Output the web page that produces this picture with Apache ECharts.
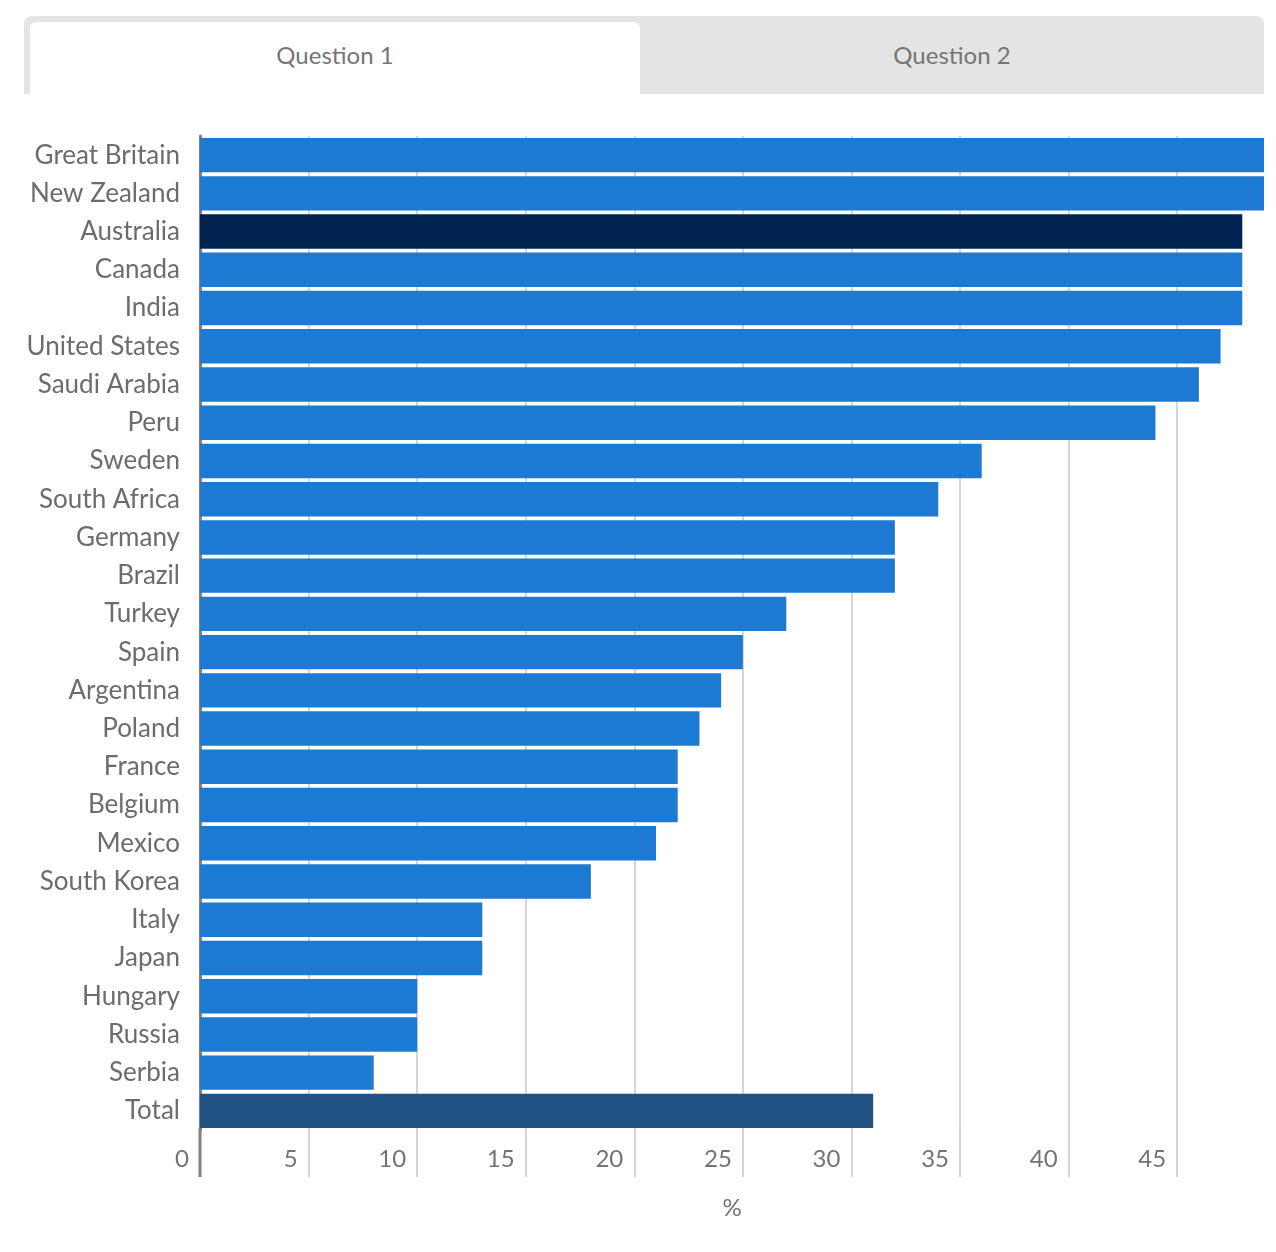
<!DOCTYPE html>
<html>
<head>
<meta charset="utf-8">
<script src="https://cdn.jsdelivr.net/npm/echarts@6/dist/echarts.min.js"></script>
<style>
  html, body { margin: 0; padding: 0; background: #fff; }
  #wrap { position: relative; width: 1276px; height: 1252px; font-family: Lato, "Open Sans", sans-serif; }
  #tabs { position: absolute; left: 24px; top: 16px; width: 1240px; height: 78px; background: #e4e4e4; border-radius: 8px 8px 0 0; }
  .tab { position: absolute; top: 0; height: 78px; line-height: 78px; text-align: center; font-size: 24px; color: #757575; }
  #tab1 { left: 6px; top: 6px; width: 610px; height: 72px; line-height: 66px; background: #fff; border-radius: 6px 6px 0 0; }
  #tab2 { left: 616px; width: 624px; line-height: 78px; }
  #chart { position: absolute; left: 0; top: 0; width: 1276px; height: 1252px; }
</style>
</head>
<body>
<div id="wrap">
  <div id="tabs">
    <div class="tab" id="tab1">Question 1</div>
    <div class="tab" id="tab2">Question 2</div>
  </div>
  <div id="chart"></div>
</div>
<script>
// countries, top to bottom
const countries = [
  "Great Britain", "New Zealand", "Australia", "Canada", "India",
  "United States", "Saudi Arabia", "Peru", "Sweden", "South Africa",
  "Germany", "Brazil", "Turkey", "Spain", "Argentina", "Poland",
  "France", "Belgium", "Mexico", "South Korea", "Italy", "Japan",
  "Hungary", "Russia", "Serbia", "Total"
];
// percent values
const values = [
  49, 49, 48, 48, 48,
  47, 46, 44, 36, 34,
  32, 32, 27, 25, 24, 23,
  22, 22, 21, 18, 13, 13,
  10, 10, 8, 31
];
const xTicks = [0, 5, 10, 15, 20, 25, 30, 35, 40, 45];

const barColor = "#1d7ad3";
const highlight = { "Australia": "#022452", "Total": "#1f5282" };

const chart = echarts.init(document.getElementById("chart"));

const grid = { left: 200, top: 136, right: 12, bottom: 122 };

chart.setOption({
  animation: false,
  grid: grid,
  xAxis: {
    type: "value",
    min: 0,
    max: 49,
    interval: 5,
    name: "%",
    nameLocation: "middle",
    nameGap: 66,
    nameTextStyle: { fontSize: 24, color: "#737373", fontFamily: "Lato" },
    axisLine: { show: false },
    axisTick: {
      show: true,
      length: 47,
      customValues: xTicks,
      lineStyle: { color: "#c8c8c8", width: 1.5 }
    },
    axisLabel: {
      customValues: xTicks,
      align: "right",
      margin: 17,
      padding: [0, 11, 0, 0],
      fontSize: 24,
      color: "#737373",
      fontFamily: "Lato"
    },
    splitLine: { show: true, lineStyle: { color: "#c8c8c8", width: 1.5 } }
  },
  yAxis: {
    type: "category",
    inverse: true,
    data: countries,
    axisLine: { show: true, lineStyle: { color: "#808080", width: 3 } },
    axisTick: { show: false },
    axisLabel: { fontSize: 26, color: "#6c6c6c", margin: 20, fontFamily: "Lato" }
  },
  series: [{
    type: "bar",
    barCategoryGap: "10%",
    z: 1,
    data: values.map((v, i) => ({
      value: v,
      itemStyle: { color: highlight[countries[i]] || barColor }
    }))
  }]
});

// extend the y axis line below the plot, like the tick lines
const x0 = chart.convertToPixel({ xAxisIndex: 0 }, 0);
const yBottom = 1252 - grid.bottom;
chart.setOption({
  graphic: [{
    type: "line",
    shape: { x1: x0, y1: yBottom - 2, x2: x0, y2: yBottom + 47 },
    style: { stroke: "#808080", lineWidth: 3 },
    z: 10
  }]
});
</script>
</body>
</html>
